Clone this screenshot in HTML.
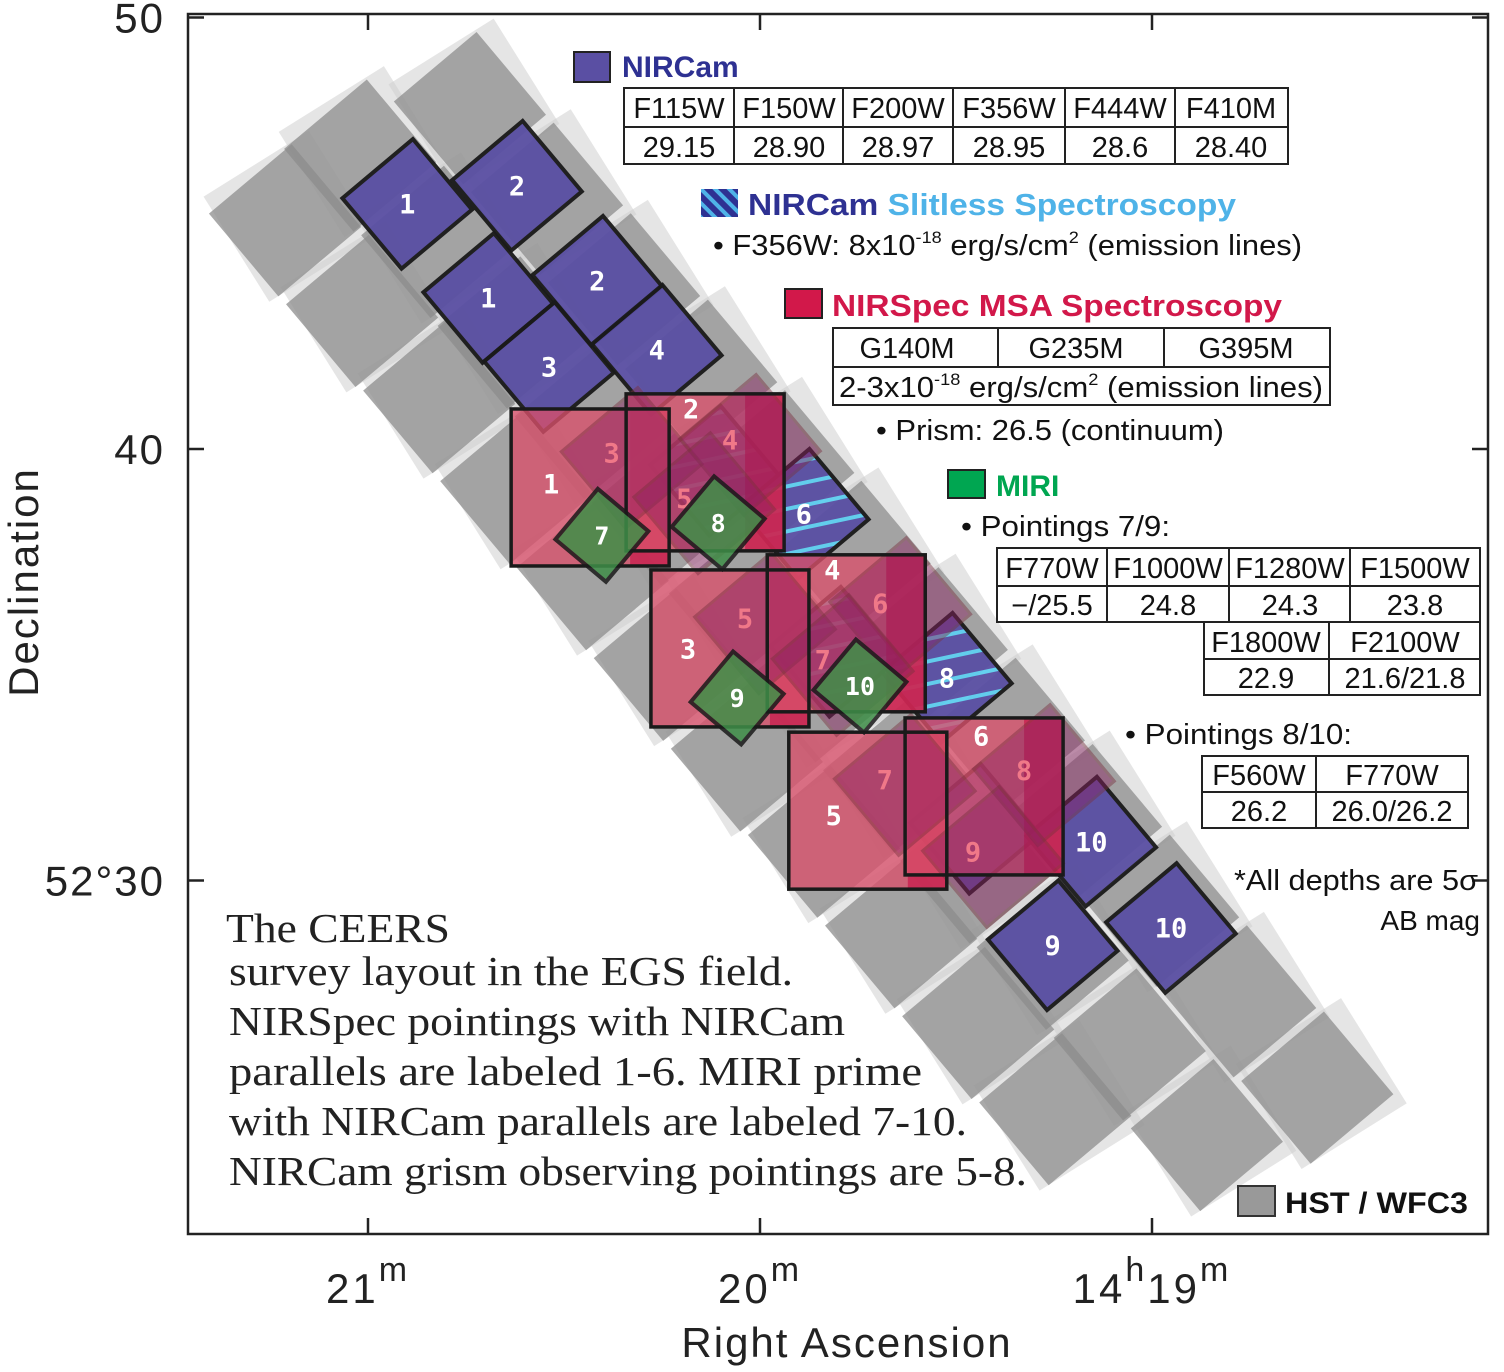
<!DOCTYPE html>
<html><head><meta charset="utf-8"><style>
html,body{margin:0;padding:0;background:#fff}
svg{display:block}
.t{font-family:"Liberation Sans",sans-serif}
.s{font-family:"Liberation Serif",serif}
</style></head><body>
<svg id="chart" width="1504" height="1372" viewBox="0 0 1504 1372" xmlns="http://www.w3.org/2000/svg">
<defs>
<pattern id="hatch" patternUnits="userSpaceOnUse" width="22" height="22" patternTransform="rotate(28)">
<rect width="22" height="22" fill="#5a4fa3"/><rect y="0" width="22" height="4" fill="#5fd0f0"/>
</pattern>
<pattern id="hatchleg" patternUnits="userSpaceOnUse" width="10" height="10" patternTransform="rotate(-45)">
<rect width="10" height="10" fill="#2e3192"/><rect width="4" height="10" fill="#4fb3e8"/>
</pattern>
<clipPath id="plotclip"><rect x="188" y="14" width="1300" height="1220"/></clipPath>
</defs>
<g id="marks" clip-path="url(#plotclip)"></g>
<g id="axes">
<rect x="188" y="14" width="1300" height="1220" fill="none" stroke="#222" stroke-width="2.5"/>
</g>
<g id="legend" class="t">
<rect x="574" y="52" width="36" height="30" fill="#5a4fa3" stroke="#222" stroke-width="2"/>
<text x="622" y="77" font-size="30" font-weight="bold" fill="#2e3192">NIRCam</text>
<g font-size="29" text-anchor="middle" fill="#111">
<rect x="624" y="88" width="664" height="76" fill="none" stroke="#222" stroke-width="2"/>
<line x1="624" y1="127" x2="1288" y2="127" stroke="#222" stroke-width="2"/>
<line x1="734" y1="88" x2="734" y2="164" stroke="#222" stroke-width="2"/>
<line x1="843" y1="88" x2="843" y2="164" stroke="#222" stroke-width="2"/>
<line x1="953" y1="88" x2="953" y2="164" stroke="#222" stroke-width="2"/>
<line x1="1065" y1="88" x2="1065" y2="164" stroke="#222" stroke-width="2"/>
<line x1="1175" y1="88" x2="1175" y2="164" stroke="#222" stroke-width="2"/>
<text x="679" y="118">F115W</text><text x="789" y="118">F150W</text><text x="898" y="118">F200W</text><text x="1009" y="118">F356W</text><text x="1120" y="118">F444W</text><text x="1231" y="118">F410M</text>
<text x="679" y="157">29.15</text><text x="789" y="157">28.90</text><text x="898" y="157">28.97</text><text x="1009" y="157">28.95</text><text x="1120" y="157">28.6</text><text x="1231" y="157">28.40</text>
</g>
<rect x="701" y="189" width="37" height="28" fill="url(#hatchleg)"/>
<text x="748" y="215" font-size="31" font-weight="bold" textLength="488" lengthAdjust="spacingAndGlyphs"><tspan fill="#2e3192">NIRCam </tspan><tspan fill="#4fb3e8">Slitless Spectroscopy</tspan></text>
<text x="713" y="255" font-size="29" fill="#111" textLength="589" lengthAdjust="spacingAndGlyphs">• F356W: 8x10<tspan font-size="17" dy="-12">-18</tspan><tspan dy="12"> erg/s/cm</tspan><tspan font-size="17" dy="-12">2</tspan><tspan dy="12">  (emission lines)</tspan></text>
<rect x="785" y="289" width="37" height="29" fill="#d2184a" stroke="#222" stroke-width="2"/>
<text x="832" y="316" font-size="31" font-weight="bold" fill="#d2184a" textLength="450" lengthAdjust="spacingAndGlyphs">NIRSpec MSA Spectroscopy</text>
<g font-size="29" fill="#111">
<rect x="833" y="328" width="497" height="77" fill="none" stroke="#222" stroke-width="2"/>
<line x1="833" y1="367" x2="1330" y2="367" stroke="#222" stroke-width="2"/>
<line x1="998" y1="328" x2="998" y2="367" stroke="#222" stroke-width="2"/>
<line x1="1164" y1="328" x2="1164" y2="367" stroke="#222" stroke-width="2"/>
<text x="907" y="358" text-anchor="middle">G140M</text><text x="1076" y="358" text-anchor="middle">G235M</text><text x="1246" y="358" text-anchor="middle">G395M</text>
<text x="839" y="397" textLength="484" lengthAdjust="spacingAndGlyphs">2-3x10<tspan font-size="17" dy="-12">-18</tspan><tspan dy="12"> erg/s/cm</tspan><tspan font-size="17" dy="-12">2</tspan><tspan dy="12"> (emission lines)</tspan></text>
</g>
<text x="876" y="440" font-size="29" fill="#111" textLength="348" lengthAdjust="spacingAndGlyphs">• Prism: 26.5 (continuum)</text>
<rect x="948" y="470" width="37" height="28" fill="#00a651" stroke="#222" stroke-width="2"/>
<text x="996" y="496" font-size="30" font-weight="bold" fill="#00a651">MIRI</text>
<text x="961" y="536" font-size="29" fill="#111" textLength="209" lengthAdjust="spacingAndGlyphs">• Pointings 7/9:</text>
<g font-size="29" text-anchor="middle" fill="#111">
<rect x="997" y="548" width="483" height="74" fill="none" stroke="#222" stroke-width="2"/>
<line x1="997" y1="586" x2="1480" y2="586" stroke="#222" stroke-width="2"/>
<line x1="1107" y1="548" x2="1107" y2="622" stroke="#222" stroke-width="2"/>
<line x1="1229" y1="548" x2="1229" y2="622" stroke="#222" stroke-width="2"/>
<line x1="1350" y1="548" x2="1350" y2="622" stroke="#222" stroke-width="2"/>
<text x="1052" y="578">F770W</text><text x="1168" y="578">F1000W</text><text x="1290" y="578">F1280W</text><text x="1415" y="578">F1500W</text>
<text x="1052" y="615">−/25.5</text><text x="1168" y="615">24.8</text><text x="1290" y="615">24.3</text><text x="1415" y="615">23.8</text>
<rect x="1204" y="622" width="276" height="73" fill="none" stroke="#222" stroke-width="2"/>
<line x1="1204" y1="659" x2="1480" y2="659" stroke="#222" stroke-width="2"/>
<line x1="1329" y1="622" x2="1329" y2="695" stroke="#222" stroke-width="2"/>
<text x="1266" y="652">F1800W</text><text x="1405" y="652">F2100W</text>
<text x="1266" y="688">22.9</text><text x="1405" y="688">21.6/21.8</text>
</g>
<text x="1125" y="744" font-size="29" fill="#111" textLength="227" lengthAdjust="spacingAndGlyphs">• Pointings 8/10:</text>
<g font-size="29" text-anchor="middle" fill="#111">
<rect x="1202" y="756" width="266" height="72" fill="none" stroke="#222" stroke-width="2"/>
<line x1="1202" y1="792" x2="1468" y2="792" stroke="#222" stroke-width="2"/>
<line x1="1316" y1="756" x2="1316" y2="828" stroke="#222" stroke-width="2"/>
<text x="1259" y="785">F560W</text><text x="1392" y="785">F770W</text>
<text x="1259" y="821">26.2</text><text x="1392" y="821">26.0/26.2</text>
</g>
<text x="1234" y="890" font-size="29" fill="#111" textLength="244" lengthAdjust="spacingAndGlyphs">*All depths are 5σ</text>
<text x="1480" y="930" font-size="28" fill="#111" text-anchor="end">AB mag</text>
<rect x="1238" y="1186" width="37" height="30" fill="#999" stroke="#333" stroke-width="2"/>
<text x="1285" y="1213" font-size="30" font-weight="bold" fill="#111" textLength="183" lengthAdjust="spacingAndGlyphs">HST / WFC3</text>
</g>
<g class="s" font-size="41" fill="#222">
<text x="226" y="942" textLength="224" lengthAdjust="spacingAndGlyphs">The CEERS</text>
<text x="229" y="985" textLength="564" lengthAdjust="spacingAndGlyphs">survey layout in the EGS field.</text>
<text x="229" y="1035" textLength="616" lengthAdjust="spacingAndGlyphs">NIRSpec pointings with NIRCam</text>
<text x="229" y="1085" textLength="693" lengthAdjust="spacingAndGlyphs">parallels are labeled 1-6.  MIRI prime</text>
<text x="229" y="1135" textLength="738" lengthAdjust="spacingAndGlyphs">with NIRCam parallels are labeled 7-10.</text>
<text x="229" y="1185" textLength="798" lengthAdjust="spacingAndGlyphs">NIRCam grism observing pointings are 5-8.</text>
</g>
<script>
// RA in seconds past 14h19m, Dec in arcmin past +52°
const raTicks = [120, 60, 0];
const raTickLabels = [["21","m"], ["20","m"], ["14","h","19","m"]];
const decTicks = [50, 40, 30];
const decTickLabels = ["50", "40", "52°30"];

const hstRA = [132.7,120.9,109.1,97.3,85.6,73.8,62.0,50.2,38.4,26.6,14.8,
  121.2,109.4,97.7,85.9,74.1,62.3,50.5,38.7,26.9,15.2,3.4,-8.4,
  104.4,92.6,80.8,69.0,57.2,45.5,33.7,21.9,10.1,-1.7,-13.5,-25.3];
const hstDec = [45.3,43.2,41.2,39.1,37.1,35.0,32.9,30.9,28.8,26.7,24.7,
  46.8,44.8,42.7,40.6,38.6,36.5,34.5,32.4,30.3,28.3,26.2,24.1,
  47.9,45.8,43.7,41.7,39.6,37.5,35.5,33.4,31.4,29.3,27.2,25.2];

const nircamRA = [114.0,97.2,101.6,84.9,92.3,75.8,66.9,53.3,48.5,31.4,27.1,9.3,15.2,-2.9];
const nircamDec = [45.68,46.1,43.5,43.9,41.9,42.3,39.5,38.5,35.3,34.7,31.2,30.9,28.5,28.9];
const nircamLabels = ["1","2","1","2","3","4","","6","","8","","10","9","10"];
const nircamGrism = [false,false,false,false,false,false,true,true,true,true,false,false,false,false];

const magRA = [82.7,64.6,71.6,62.3,41.6,50.4,40.9,19.6,27.4];
const magDec = [39.91,40.21,38.86,36.08,36.43,35.11,32.33,32.56,30.66];
const magLabels = ["3","4","5","5","6","7","7","8","9"];

const nsRA = [86.0,68.4,64.6,46.8,43.5,25.7];
const nsDec = [39.12,39.47,35.39,35.74,31.63,31.96];
const nsLabels = ["1","2","3","4","5","6"];

const miriRA = [84.2,66.4,63.5,44.7];
const miriDec = [38.0,38.29,34.23,34.51];
const miriLabels = ["7","8","9","10"];

const PX_PER_SEC = 392/60, PX_PER_ARCMIN = 43.15;
function xScale(ra){ return 760 - (ra - 60) * PX_PER_SEC; }
function yScale(dec){ return 449 - (dec - 40) * PX_PER_ARCMIN; }

const NS = "http://www.w3.org/2000/svg";
const marks = document.getElementById("marks");
const axes = document.getElementById("axes");
function mk(tag, attrs, parent){
  const e = document.createElementNS(NS, tag);
  for (const k in attrs) e.setAttribute(k, attrs[k]);
  parent.appendChild(e); return e;
}
function rotSquare(cx, cy, size, angle, attrs, parent){
  return mk("rect", Object.assign({x: cx-size/2, y: cy-size/2, width: size, height: size,
    transform: `rotate(${angle} ${cx} ${cy})`}, attrs), parent);
}
function label(x, y, txt, fill, size, parent){
  const t = mk("text", {x: x, y: y + size*0.36, "text-anchor":"middle", "font-size": size,
    "font-weight":"bold", fill: fill, "font-family":"DejaVu Sans Mono, Liberation Sans, sans-serif"}, parent);
  t.textContent = txt; return t;
}

// HST tiles
const gH = mk("g", {}, marks);


for (let i = 0; i < hstRA.length; i++){
  const cx = xScale(hstRA[i]), cy = yScale(hstDec[i]);
  const halo = rotSquare(cx+4, cy-4, 124, -32, {fill:"#cfcfcf", opacity:0.55}, gH);
  
  
}
for (let i = 0; i < hstRA.length; i++){
  const cx = xScale(hstRA[i]), cy = yScale(hstDec[i]);
  const r = rotSquare(cx, cy, 108, -40, {fill:"#8c8c8c", opacity:0.75}, gH);
  
  
}

// NIRCam
const gN = mk("g", {}, marks);


for (let i = 0; i < nircamRA.length; i++){
  const cx = xScale(nircamRA[i]), cy = yScale(nircamDec[i]);
  const r = rotSquare(cx, cy, 92, -40, {fill: nircamGrism[i] ? "url(#hatch)" : "#5a4fa3",
    opacity: 0.95, stroke:"#1a1a1a", "stroke-width":4}, gN);
  
  
}
for (let i = 0; i < nircamRA.length; i++){
  if (!nircamLabels[i]) continue;
  const t = label(xScale(nircamRA[i]), yScale(nircamDec[i]), nircamLabels[i], "#fff", 27, gN);
  
  
}

// NIRSpec MSA
const gS = mk("g", {}, marks);


const nsLblDx = [-39,-14,-42,-14,-34,-3], nsLblDy = [-3,-63,1,-63,5,-60];
for (let i = 0; i < nsRA.length; i++){
  const cx = xScale(nsRA[i]), cy = yScale(nsDec[i]);
  const r = mk("rect", {x: cx-79, y: cy-78, width:158, height:157, fill:"#d9506a", opacity:0.78}, gS);
  
  
  const b = mk("rect", {x: cx+40, y: cy-78, width:38, height:157, fill:"#c8184a", opacity:0.7}, gS);
  
  
}
for (let i = 0; i < magRA.length; i++){
  const cx = xScale(magRA[i]), cy = yScale(magDec[i]);
  const r = rotSquare(cx+20, cy+5, 100, -40, {fill:"#8a2060", opacity:0.45, stroke:"#7a3040", "stroke-width":3}, gS);
  
  
  const t = label(cx, cy, magLabels[i], "#f07888", 27, gS);
  
  
}
for (let i = 0; i < nsRA.length; i++){
  const cx = xScale(nsRA[i]), cy = yScale(nsDec[i]);
  const r = mk("rect", {x: cx-79, y: cy-78, width:158, height:157, fill:"none", stroke:"#1a1a1a", "stroke-width":3.5}, gS);
  
  
  const t = label(cx+nsLblDx[i], cy+nsLblDy[i], nsLabels[i], "#fff", 27, gS);
  
  
}

// MIRI
const gM = mk("g", {}, marks);


for (let i = 0; i < miriRA.length; i++){
  const cx = xScale(miriRA[i]), cy = yScale(miriDec[i]);
  const r = rotSquare(cx, cy, 66, -50, {fill:"#3f8f48", opacity:0.85, stroke:"#1a1a1a", "stroke-width":4}, gM);
  
  
  const t = label(cx, cy, miriLabels[i], "#fff", 25, gM);
  
  
}

// Axes ticks and labels
for (let i = 0; i < raTicks.length; i++){
  const x = xScale(raTicks[i]);
  const t1 = mk("line", {x1:x, y1:1234, x2:x, y2:1218, stroke:"#222", "stroke-width":2.5}, axes);
  
  
  const t2 = mk("line", {x1:x, y1:14, x2:x, y2:30, stroke:"#222", "stroke-width":2.5}, axes);
  
  
  const parts = raTickLabels[i];
  const tx = mk("text", {x:x, y:1303, "text-anchor":"middle", "font-size":42, fill:"#222", "letter-spacing":"3", "font-family":"Liberation Sans, sans-serif"}, axes);
  
  
  for (let j = 0; j < parts.length; j++){
    const sp = document.createElementNS(NS, "tspan");
    if (j % 2 === 1){ sp.setAttribute("dy", "-22"); sp.setAttribute("font-size", "34"); }
    else if (j > 0){ sp.setAttribute("dy", "22"); }
    sp.textContent = parts[j];
    tx.appendChild(sp);
  }
}
for (let i = 0; i < decTicks.length; i++){
  const y = yScale(decTicks[i]);
  const t1 = mk("line", {x1:188, y1:y, x2:204, y2:y, stroke:"#222", "stroke-width":2.5}, axes);
  
  
  const t2 = mk("line", {x1:1488, y1:y, x2:1472, y2:y, stroke:"#222", "stroke-width":2.5}, axes);
  
  
  const tx = mk("text", {x:165, y:y+15, "text-anchor":"end", "font-size":42, fill:"#222", "letter-spacing":"2", "font-family":"Liberation Sans, sans-serif"}, axes);
  
  
  tx.textContent = decTickLabels[i];
}
const xt = mk("text", {x:847, y:1357, "text-anchor":"middle", "font-size":42, fill:"#222", "letter-spacing":"2", "font-family":"Liberation Sans, sans-serif"}, axes);


xt.textContent = "Right  Ascension";
const yt = mk("text", {x:38, y:582, "text-anchor":"middle", "font-size":42, fill:"#222", "letter-spacing":"2", transform:"rotate(-90 38 582)", "font-family":"Liberation Sans, sans-serif"}, axes);


yt.textContent = "Declination";
</script>
</svg>
</body></html>
